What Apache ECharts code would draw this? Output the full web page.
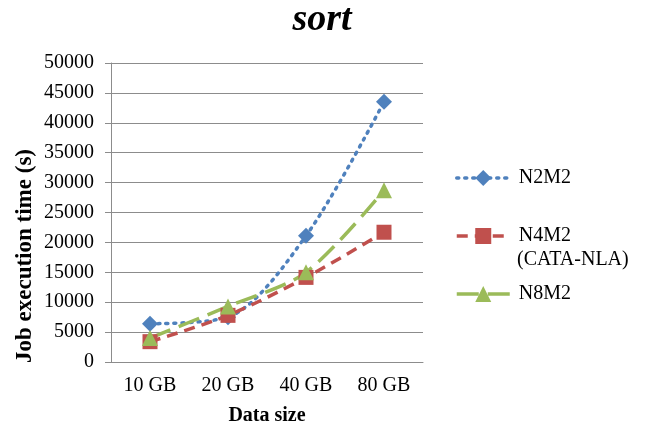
<!DOCTYPE html>
<html>
<head>
<meta charset="utf-8">
<script src="https://cdn.jsdelivr.net/npm/echarts@6/dist/echarts.min.js"></script>
<style>
  html, body { margin: 0; padding: 0; background: #fff; }
  #chart { width: 649px; height: 429px; }
</style>
</head>
<body>
<div id="chart"></div>
<script>
// Job execution time (s) for the sort benchmark by data size
const categories = ['10 GB', '20 GB', '40 GB', '80 GB'];
const seriesNames = ['N2M2', 'N4M2 (CATA-NLA)', 'N8M2'];
const n2m2 = [6400, 7500, 21100, 43500];
const n4m2 = [3400, 7800, 14150, 21700];
const n8m2 = [4000, 9300, 15000, 28700];

const serif = '"Liberation Serif", "Times New Roman", serif';
const gridColor = '#8c8c8c';

// one legend block per series so each entry sits at its own height
function legendAt(name, top, label) {
  return {
    orient: 'vertical',
    left: 450, top: top,
    itemWidth: 53, itemHeight: 20, itemGap: 0,
    textStyle: { fontFamily: serif, fontSize: 20, color: '#000', padding: [0, 0, 0, 4] },
    lineStyle: { width: 3.5 },
    formatter: () => label,
    data: [name]
  };
}

const chart = echarts.init(document.getElementById('chart'));
chart.setOption({
  animation: false,
  title: {
    text: 'sort',
    left: 317, top: -4, textAlign: 'center',
    textStyle: { fontFamily: serif, fontSize: 38, fontWeight: 'bold', fontStyle: 'italic', color: '#000' }
  },
  grid: { left: 111, top: 63, width: 312, height: 299, containLabel: false, outerBoundsMode: 'none' },
  legend: [
    legendAt(seriesNames[0], 163, 'N2M2'),
    legendAt(seriesNames[1], 221, 'N4M2'),
    legendAt(seriesNames[2], 279, 'N8M2')
  ],
  graphic: [
    {
      type: 'text', left: 517, top: 250,
      style: { text: '(CATA-NLA)', font: '20px ' + serif, fill: '#000' }
    },
    {
      type: 'text', x: 25, y: 256, rotation: Math.PI / 2,
      style: {
        text: 'Job execution time (s)', font: 'bold 23px ' + serif, fill: '#000',
        align: 'center', verticalAlign: 'middle'
      }
    }
  ],
  xAxis: {
    type: 'category',
    data: categories,
    boundaryGap: true,
    name: 'Data size',
    nameLocation: 'middle',
    nameGap: 44,
    nameTextStyle: { fontFamily: serif, fontSize: 20, fontWeight: 'bold', color: '#000' },
    axisLine: { lineStyle: { color: gridColor } },
    axisTick: { show: false },
    axisLabel: { fontFamily: serif, fontSize: 20, color: '#000', margin: 14 }
  },
  yAxis: {
    type: 'value',
    min: 0, max: 50000, interval: 5000,
    axisLine: { show: true, lineStyle: { color: gridColor } },
    axisTick: { show: true, length: 6, lineStyle: { color: gridColor } },
    axisLabel: { fontFamily: serif, fontSize: 20, color: '#000', margin: 17, formatter: v => String(v) },
    splitLine: { lineStyle: { color: gridColor } }
  },
  series: [
    {
      name: seriesNames[0], type: 'line', data: n2m2, smooth: 0.3,
      symbol: 'diamond', symbolSize: 16,
      itemStyle: { color: '#4F81BD' },
      lineStyle: { width: 3.5, type: [2, 6], cap: 'round', color: '#4F81BD' }
    },
    {
      name: seriesNames[1], type: 'line', data: n4m2, smooth: 0.3,
      symbol: 'rect', symbolSize: 15,
      itemStyle: { color: '#C0504D' },
      lineStyle: { width: 3.5, type: [11, 7], color: '#C0504D' }
    },
    {
      name: seriesNames[2], type: 'line', data: n8m2, smooth: 0.3,
      symbol: 'triangle', symbolSize: 16,
      itemStyle: { color: '#9BBB59' },
      lineStyle: { width: 3.5, type: [22, 9], color: '#9BBB59' }
    }
  ]
});
</script>
</body>
</html>
